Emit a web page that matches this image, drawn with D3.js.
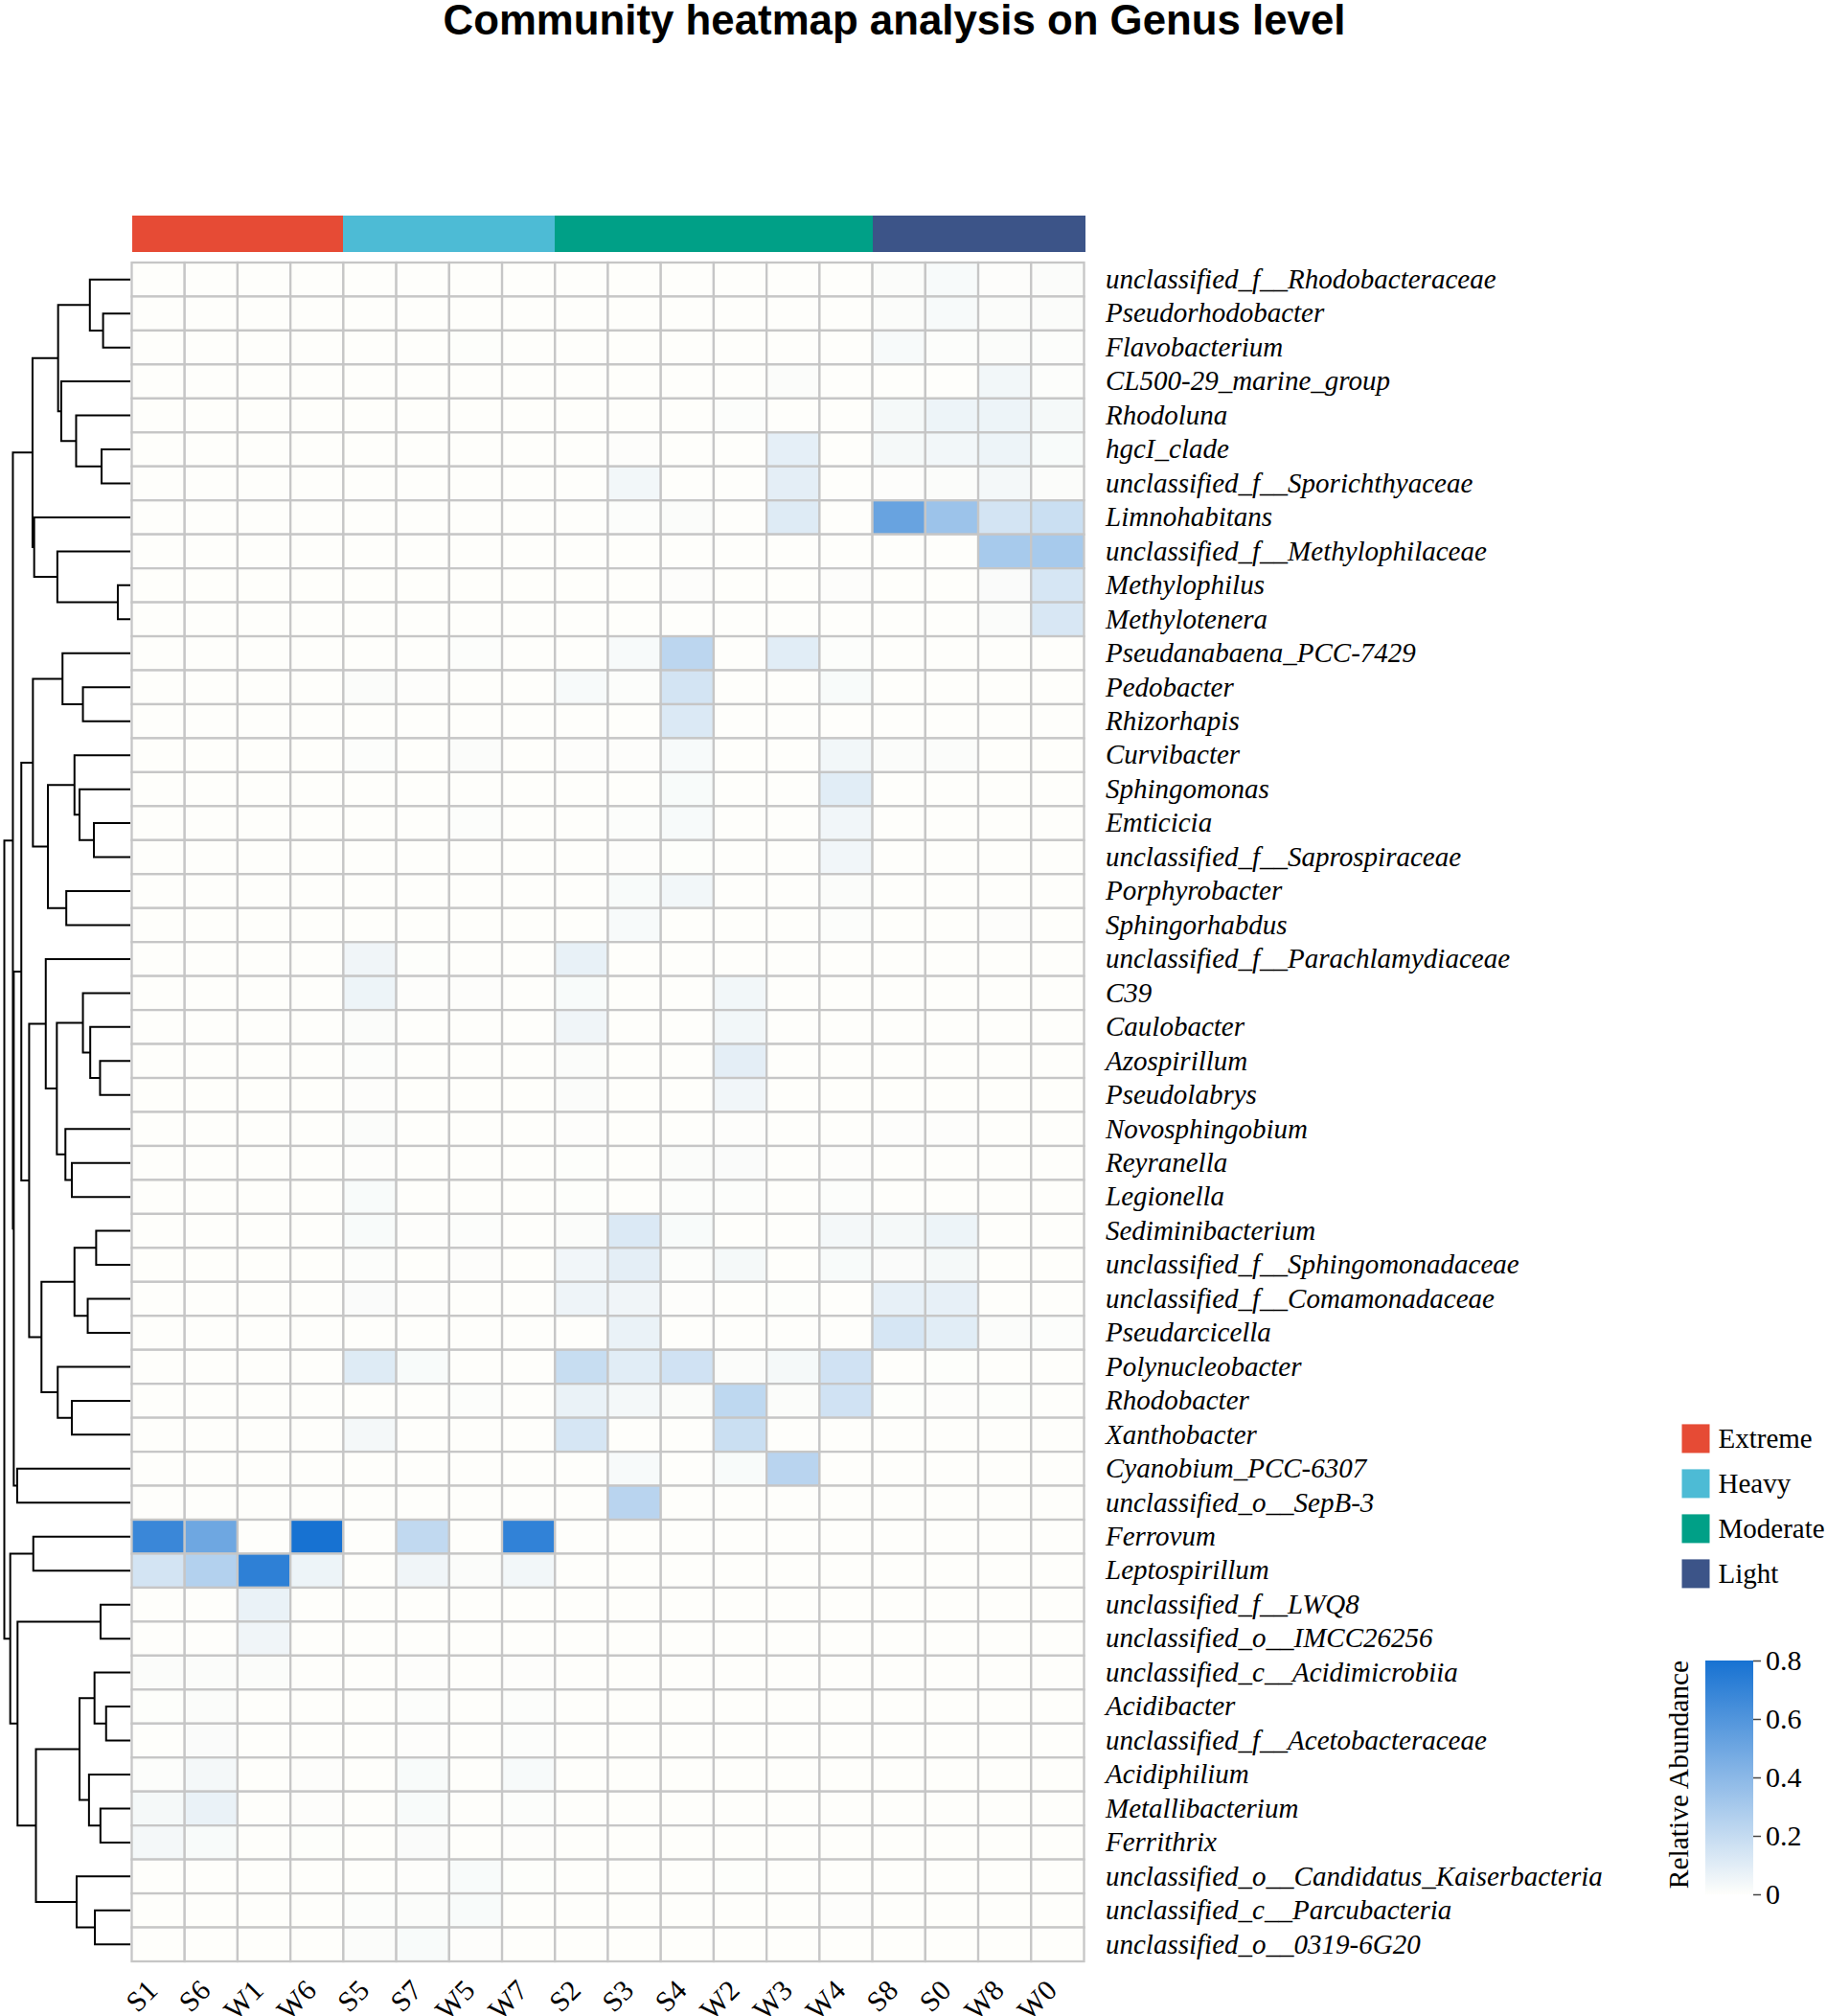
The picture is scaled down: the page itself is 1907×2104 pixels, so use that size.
<!DOCTYPE html>
<html>
<head>
<meta charset="utf-8">
<title>Community heatmap analysis on Genus level</title>
<script src="https://cdn.jsdelivr.net/npm/d3@7"></script>
<style>
  html, body { margin: 0; background: #fff; }
  svg { display: block; }
  .serif text, text.serif { font-family: "Liberation Serif", serif; fill: #000; }
</style>
</head>
<body>
<svg id="chart" width="1907" height="2104"></svg>
<script>
const samples = ['S1','S6','W1','W6','S5','S7','W5','W7','S2','S3','S4','W2','W3','W4','S8','S0','W8','W0'];
const sampleGroups = ['Extreme','Extreme','Extreme','Extreme','Heavy','Heavy','Heavy','Heavy','Moderate','Moderate','Moderate','Moderate','Moderate','Moderate','Light','Light','Light','Light'];
const groupNames = ['Extreme','Heavy','Moderate','Light'];
const groupColors = ['#E64B35','#4DBBD5','#00A087','#3C5488'];
const colorTicks = [0, 0.2, 0.4, 0.6, 0.8];

const genera = [
  'unclassified_f__Rhodobacteraceae','Pseudorhodobacter','Flavobacterium','CL500-29_marine_group','Rhodoluna',
  'hgcI_clade','unclassified_f__Sporichthyaceae','Limnohabitans','unclassified_f__Methylophilaceae','Methylophilus',
  'Methylotenera','Pseudanabaena_PCC-7429','Pedobacter','Rhizorhapis','Curvibacter',
  'Sphingomonas','Emticicia','unclassified_f__Saprospiraceae','Porphyrobacter','Sphingorhabdus',
  'unclassified_f__Parachlamydiaceae','C39','Caulobacter','Azospirillum','Pseudolabrys',
  'Novosphingobium','Reyranella','Legionella','Sediminibacterium','unclassified_f__Sphingomonadaceae',
  'unclassified_f__Comamonadaceae','Pseudarcicella','Polynucleobacter','Rhodobacter','Xanthobacter',
  'Cyanobium_PCC-6307','unclassified_o__SepB-3','Ferrovum','Leptospirillum','unclassified_f__LWQ8',
  'unclassified_o__IMCC26256','unclassified_c__Acidimicrobiia','Acidibacter','unclassified_f__Acetobacteraceae','Acidiphilium',
  'Metallibacterium','Ferrithrix','unclassified_o__Candidatus_Kaiserbacteria','unclassified_c__Parcubacteria','unclassified_o__0319-6G20'
];

// one row per genus, columns in the same order as samples
const abundance = [
  [0,0,0,0,0,0,0,0,0,0,0,0,0,0,.012,.025,.005,.01],
  [0,0,0,0,0,0,0,0,0,0,0,0,0,0,.012,.025,.012,.012],
  [0,0,0,0,0,0,.002,0,0,0,0,0,0,0,.025,.008,.012,.008],
  [0,0,0,0,0,0,0,0,0,0,0,0,.01,0,0,0,.04,.008],
  [0,0,0,0,0,0,0,0,0,0,0,.008,0,0,.03,.06,.06,.03],
  [0,0,0,0,0,0,0,0,0,.005,0,0,.085,0,.03,.04,.06,.02],
  [0,0,0,0,0,0,0,0,0,.04,0,0,.09,0,.005,.01,.035,.012],
  [0,0,0,0,0,0,0,0,0,.008,.01,0,.11,0,.52,.34,.15,.18],
  [0,0,0,0,0,0,0,0,0,0,0,0,0,0,0,0,.30,.30],
  [0,0,0,0,0,0,0,0,0,0,.003,0,0,.005,0,0,.015,.14],
  [0,0,0,0,0,0,0,0,0,0,0,0,0,0,0,0,.012,.13],
  [0,0,0,0,0,0,.006,0,0,.025,.23,0,.10,.008,0,0,0,0],
  [0,0,0,0,.01,.004,0,0,.025,.006,.15,0,0,.02,0,0,0,0],
  [0,0,0,0,0,0,0,0,0,0,.12,0,0,0,0,0,0,0],
  [0,0,0,0,.008,0,.01,0,.003,.003,.025,0,0,.04,.012,.012,0,0],
  [0,0,0,0,0,0,0,0,0,0,.02,0,0,.10,0,0,0,0],
  [0,0,0,0,0,0,.008,0,0,.006,.025,0,0,.045,0,0,0,0],
  [0,0,0,0,0,0,0,0,0,.005,.002,0,0,.045,0,0,0,0],
  [0,0,0,0,0,0,0,0,0,.02,.04,0,0,.012,0,0,0,0],
  [0,0,0,0,0,0,0,0,0,.025,0,0,0,.008,0,0,.004,0],
  [0,0,0,0,.05,.002,0,0,.075,0,0,0,0,0,0,0,0,0],
  [0,0,0,0,.06,.005,.004,0,.02,0,0,.04,0,0,0,0,0,0],
  [0,0,0,0,.012,0,0,0,.05,0,0,.04,0,0,0,0,0,0],
  [0,0,0,0,.008,0,0,0,.012,0,0,.09,0,0,0,0,0,0],
  [0,0,0,0,.004,0,0,0,.012,0,0,.045,0,0,0,0,0,0],
  [0,0,0,0,.01,0,0,0,.005,0,0,.004,0,0,.003,.004,0,0],
  [0,0,0,0,.004,0,0,0,.002,0,.012,.015,0,.004,0,0,0,0],
  [0,0,0,0,.02,0,0,0,.002,0,.006,.008,0,.006,0,0,0,0],
  [0,0,0,0,.02,.005,.006,0,.012,.12,.02,0,0,.035,.03,.06,0,0],
  [0,0,0,0,.006,0,.005,0,.045,.09,.008,.03,0,.02,.015,.03,0,0],
  [0,0,0,0,.015,.004,0,0,.055,.05,.005,0,.002,0,.08,.08,0,0],
  [0,0,0,0,0,0,0,0,0,.07,0,0,0,0,.14,.10,.01,.006],
  [0,0,0,0,.11,.02,0,0,.19,.10,.16,.012,.03,.16,0,.002,0,0],
  [0,0,0,0,0,0,.006,0,.07,.035,.012,.22,.012,.16,.002,.003,.002,0],
  [0,0,0,0,.035,0,0,0,.14,0,0,.18,0,0,0,0,0,0],
  [0,0,0,0,0,0,0,0,0,.025,0,.02,.24,0,0,0,0,0],
  [0,0,0,0,0,0,0,0,0,.24,0,0,0,0,0,0,0,0],
  [.68,.50,0,.80,0,.21,0,.71,0,0,0,0,0,0,0,0,0,0],
  [.15,.26,.72,.06,0,.05,.01,.04,0,0,0,0,0,0,0,0,0,0],
  [0,0,.07,0,0,0,0,0,0,0,0,0,0,0,0,0,0,0],
  [0,0,.05,0,0,0,0,0,0,0,0,0,0,0,0,0,0,0],
  [.012,.012,.01,0,0,.003,0,.005,0,0,0,0,0,0,0,0,0,0],
  [.002,.012,0,0,0,.006,0,.006,0,0,0,0,0,0,0,0,0,0],
  [0,.015,0,0,0,.004,0,.006,0,0,0,0,0,0,0,0,0,0],
  [.006,.035,0,.005,0,.02,0,.025,0,0,0,0,0,0,0,0,0,0],
  [.03,.07,0,.004,0,.02,0,.006,0,0,0,0,0,0,0,0,0,0],
  [.035,.02,0,.002,0,.015,0,.005,0,0,0,0,0,0,0,0,0,0],
  [0,0,0,.001,0,.004,.02,.002,0,0,0,.002,0,0,0,0,0,0],
  [0,0,0,0,.006,.012,.02,0,0,0,0,0,0,.003,0,0,0,0],
  [0,0,0,0,.01,.02,.003,0,0,0,0,0,0,0,0,0,0,0]
];

// row clustering as [merge height (root = 100), left, right]; numbers at the tips index genera
const clusterA = [77.6,
  [57.3, [32.1, 0, [21.6, 1, 2]], [54.8, 3, [43.0, 4, [22.8, 5, 6]]]],
  [76.3, 7, [57.9, 8, [9.9, 9, 10]]]];
const clusterC = [77.3,
  [53.8, 11, [37.6, 12, 13]],
  [65.4, [44.3, 14, [40.3, 15, [28.9, 16, 17]]], [50.8, 18, 19]]];
const clusterE1 = [67.1, 20,
  [58.3, [37.6, 21, [31.8, 22, [24.0, 23, 24]]], [51.5, 25, [46.4, 26, 27]]]];
const clusterE2 = [70.5,
  [44.3, [27.1, 28, 29], [33.8, 30, 31]],
  [57.6, 32, [46.4, 33, 34]]];
const clusterJ = [40.3, [28.4, 41, [19.2, 42, 43]], [32.8, 44, [23.7, 45, 46]]];
const clusterK = [42.6, 47, [28.1, 48, 49]];
const rowTree = [100,
  [93.2, clusterA, [92.5, [86.5, clusterC, [80.3, clusterE1, clusterE2]], [89.8, 35, 36]]],
  [95.3, [77.0, 37, 38], [89.5, [23.6, 39, 40], [74.9, clusterJ, clusterK]]]];

const svg = d3.select('#chart');

const x = d3.scaleBand().domain(samples).range([137.5, 1131.5]);
const y = d3.scaleBand().domain(genera).range([274, 2047]);
const color = d3.scaleLinear().domain([0, 0.8]).range(['#fefefb', '#1772d2']);
const groupColor = d3.scaleOrdinal().domain(groupNames).range(groupColors);

// Title
svg.append('text')
  .attr('x', 933.5).attr('y', 36)
  .attr('text-anchor', 'middle')
  .style('font-family', '"Liberation Sans", sans-serif')
  .style('font-weight', 'bold')
  .style('font-size', '43.8px')
  .text('Community heatmap analysis on Genus level');

// Annotation bar
svg.append('g').selectAll('rect')
  .data(samples)
  .join('rect')
  .attr('x', d => x(d))
  .attr('y', 225)
  .attr('width', x.bandwidth() + 1)
  .attr('height', 38)
  .attr('shape-rendering', 'crispEdges')
  .attr('fill', (d, i) => groupColor(sampleGroups[i]));

// Heatmap cells
const cells = genera.flatMap((g, r) => samples.map((s, c) => ({ g, s, v: abundance[r][c] })));
svg.append('g').selectAll('rect')
  .data(cells)
  .join('rect')
  .attr('x', d => x(d.s))
  .attr('y', d => y(d.g))
  .attr('width', x.bandwidth())
  .attr('height', y.bandwidth())
  .attr('fill', d => color(d.v))
  .attr('stroke', '#c6c6c6')
  .attr('stroke-width', 2.3);

// Row dendrogram
const treeX = d3.scaleLinear().domain([0, 100]).range([136, 4.5]);
const root = d3.hierarchy(rowTree, d => Array.isArray(d) ? d.slice(1) : null);
root.eachAfter(n => {
  if (n.children) {
    n.px = treeX(n.data[0]);
    n.py = (n.children[0].py + n.children[1].py) / 2;
  } else {
    n.px = treeX(0);
    n.py = y(genera[n.data]) + y.bandwidth() / 2;
  }
});
svg.append('g').selectAll('path')
  .data(root.descendants().filter(n => n.children))
  .join('path')
  .attr('d', n => {
    const [a, b] = n.children;
    return `M${a.px},${a.py}H${n.px}V${b.py}H${b.px}`;
  })
  .attr('fill', 'none')
  .attr('stroke', '#000')
  .attr('stroke-width', 2);

// Genus labels
const rowAxis = svg.append('g')
  .attr('class', 'serif')
  .attr('transform', 'translate(1131,0)')
  .call(d3.axisRight(y).tickSize(0).tickPadding(23));
rowAxis.select('.domain').remove();
rowAxis.selectAll('text')
  .style('font-size', '29px')
  .style('font-style', 'italic');

// Sample labels
const colAxis = svg.append('g')
  .attr('class', 'serif')
  .attr('transform', 'translate(0,2047)')
  .call(d3.axisBottom(x).tickSize(0).tickPadding(0));
colAxis.select('.domain').remove();
colAxis.selectAll('text')
  .attr('text-anchor', 'end')
  .attr('dy', 0)
  .attr('transform', 'translate(1,32) rotate(-45)')
  .style('font-size', '30px');

// Group legend
const legendY = d3.scaleBand().domain(groupNames).range([1486.4, 1674.4]);
const legend = svg.append('g').attr('class', 'serif');
legend.selectAll('rect')
  .data(groupNames)
  .join('rect')
  .attr('x', 1755.5)
  .attr('y', d => legendY(d))
  .attr('width', 29)
  .attr('height', 30)
  .attr('fill', d => groupColor(d));
legend.selectAll('text')
  .data(groupNames)
  .join('text')
  .attr('x', 1793.5)
  .attr('y', d => legendY(d) + 25)
  .style('font-size', '29px')
  .text(d => d);

// Colour bar
const barY = d3.scaleLinear().domain([0, 0.8]).range([1977, 1733]);
const gradient = svg.append('defs').append('linearGradient')
  .attr('id', 'bar-gradient')
  .attr('x1', 0).attr('x2', 0).attr('y1', 1).attr('y2', 0);
gradient.selectAll('stop')
  .data(colorTicks)
  .join('stop')
  .attr('offset', d => d / 0.8)
  .attr('stop-color', d => color(d));
svg.append('rect')
  .attr('x', 1780).attr('y', barY(0.8))
  .attr('width', 50).attr('height', barY(0) - barY(0.8))
  .attr('fill', 'url(#bar-gradient)');

const barAxis = svg.append('g')
  .attr('class', 'serif')
  .attr('transform', 'translate(1830,0)')
  .call(d3.axisRight(barY).tickValues(colorTicks).tickFormat(d3.format('~g')).tickSize(8).tickPadding(5));
barAxis.select('.domain').remove();
barAxis.selectAll('line').attr('stroke', '#444').attr('stroke-width', 1.5);
barAxis.selectAll('text').style('font-size', '30px');

svg.append('text')
  .attr('class', 'serif')
  .attr('transform', 'translate(1762,1852) rotate(-90)')
  .attr('text-anchor', 'middle')
  .style('font-size', '29.5px')
  .text('Relative Abundance');
</script>
</body>
</html>
